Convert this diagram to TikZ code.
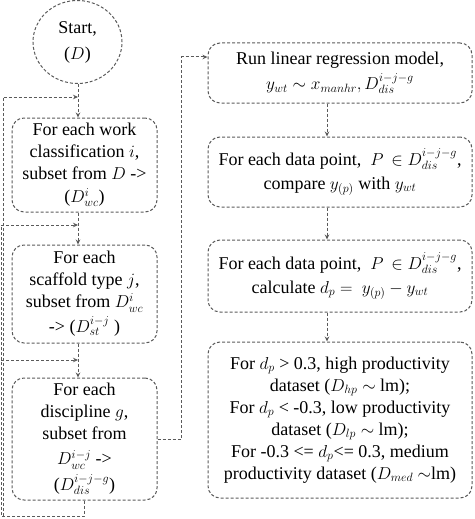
\documentclass[tikz,border=0pt]{standalone}
\usepackage{fontspec}
\setmainfont{Liberation Serif}
\usetikzlibrary{arrows.meta,shapes.geometric}
\definecolor{linegray}{HTML}{5A5A5A}
\tikzset{
 dashln/.style={draw=linegray, line width=1pt, dash pattern=on 3pt off 2pt},
 conn/.style={dashln, -{Stealth[length=5pt,width=4.5pt]}},
 procbox/.style={dashln, rounded corners=12pt, align=center, inner sep=0pt,
   font=\fontsize{18}{22}\selectfont},
 startc/.style={dashln, ellipse, align=center, inner sep=0pt, minimum width=89pt,
   minimum height=83pt, font=\fontsize{18}{22}\selectfont},
}
\begin{document}
\begin{tikzpicture}[x=1pt,y=-1pt]
\useasboundingbox (0,0) rectangle (474,519);
% left column
\node[startc] (start) at (77.5,42) {Start,\\[4pt]($D$)};
\node[procbox, minimum width=145pt, minimum height=94pt] (b1) at (84.5,165)
 {For each work\\classification $i$,\\subset from $D$ ->\\[1pt]($D^{i}_{wc}$)};
\node[procbox, minimum width=145pt, minimum height=98pt] (b2) at (84.5,294)
 {For each\\scaffold type $j$,\\subset from $D^{i}_{wc}$\\[3pt]-> ($D^{i-j}_{st}$ )};
\node[procbox, minimum width=145pt, minimum height=122pt] (b3) at (84.5,439)
 {For each\\discipline $g$,\\subset from\\[3pt]$D^{i-j}_{wc}$ ->\\[4pt]($D^{i-j-g}_{dis}$)};
% right column
\node[procbox, minimum width=264pt, minimum height=60pt] (r1) at (340,73)
 {Run linear regression model,\\[3pt]$y_{wt}\sim x_{manhr}, D^{i-j-g}_{dis}$};
\node[procbox, minimum width=264pt, minimum height=70pt] (r2) at (340,172)
 {For each data point, \ $P\,\in D^{i-j-g}_{dis}$,\\[2pt]compare $y_{(p)}$ with $y_{wt}$};
\node[procbox, minimum width=264pt, minimum height=72pt] (r3) at (340,276)
 {For each data point, \ $P\,\in D^{i-j-g}_{dis}$,\\[2pt]calculate $d_p = \ y_{(p)} - y_{wt}$};
\node[procbox, minimum width=264pt, minimum height=156pt] (r4) at (340,420)
 {For $d_p$ > 0.3, high productivity\\dataset ($D_{hp}\sim$ lm);\\For $d_p$ < -0.3, low productivity\\dataset ($D_{lp}\sim$ lm);\\For -0.3 <= $d_p$<= 0.3, medium\\productivity dataset ($D_{med}$ $\sim$lm)};
% helper coordinates
\coordinate (m1) at (78,97);
\coordinate (m2) at (78,225);
\coordinate (m3) at (78,360);
\coordinate (cA) at (3.5,516);
\coordinate (cB) at (1.2,516);
\coordinate (rt) at (181,57);
\coordinate (rc) at (327,0);
% left flow
\draw[conn] (m1 |- start.south) -- (m1 |- b1.north);
\draw[conn] (m1 |- b1.south) -- (m1 |- b2.north);
\draw[conn] (m1 |- b2.south) -- (m1 |- b3.north);
% loop back
\draw[dashln] (b3.south) -- (b3.south |- cA) -- (cB) -- (cB |- m2);
\draw[dashln] (cA) -- (cA |- m1);
\draw[conn] (cA |- m1) -- (m1);
\draw[conn] (cB |- m2) -- (m2);
\draw[conn] (cB |- m3) -- (m3);
% to right column
\draw[conn] (b3.east) -| (rt) -- (rt -| r1.west);
\draw[conn] (r1.south -| rc) -- (r2.north -| rc);
\draw[conn] (r2.south -| rc) -- (r3.north -| rc);
\draw[conn] (r3.south -| rc) -- (r4.north -| rc);
\end{tikzpicture}
\end{document}
